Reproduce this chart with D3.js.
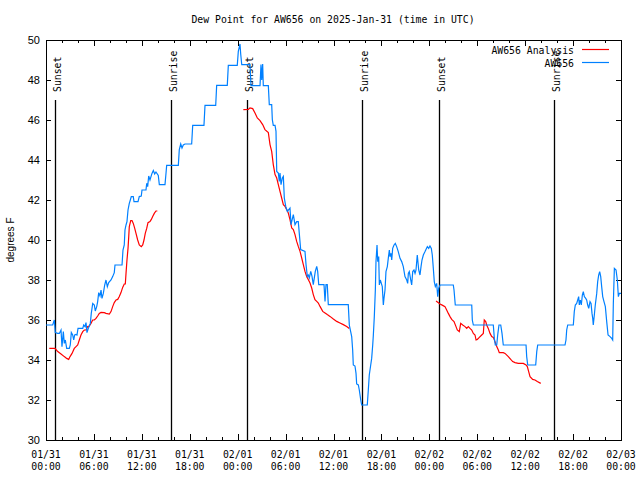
<!DOCTYPE html>
<html>
<head>
<meta charset="utf-8">
<script src="https://cdn.jsdelivr.net/npm/d3@7"></script>
<style>
  html, body { margin: 0; padding: 0; background: #fff; }
  svg { display: block; }
</style>
</head>
<body>
<svg id="chart" width="640" height="480"></svg>
<script>
// ---------------- DATA ----------------
const titleText = "Dew Point for AW656 on 2025-Jan-31 (time in UTC)";
const yTitle = "degrees F";
const seriesNames = ["AW656 Analysis", "AW656"];
const yTicks = [30, 32, 34, 36, 38, 40, 42, 44, 46, 48, 50];
const xTickHours = [0, 6, 12, 18, 24, 30, 36, 42, 48, 54, 60, 66, 72];
const xTickLabels = [
  ["01/31", "00:00"], ["01/31", "06:00"], ["01/31", "12:00"], ["01/31", "18:00"],
  ["02/01", "00:00"], ["02/01", "06:00"], ["02/01", "12:00"], ["02/01", "18:00"],
  ["02/02", "00:00"], ["02/02", "06:00"], ["02/02", "12:00"], ["02/02", "18:00"],
  ["02/03", "00:00"]
];
const eventHours = [1.13, 15.65, 25.2, 39.6, 49.25, 63.65];
const eventLabels = ["Sunset", "Sunrise", "Sunset", "Sunrise", "Sunset", "Sunrise"];

// observed station series (hours after 2025-01-31 00:00 UTC, degrees F)
const obsHours = [0.0,0.84,1.04,1.16,1.47,1.67,1.88,2.00,2.17,2.29,2.42,2.59,2.92,3.04,3.17,3.34,3.47,3.59,3.76,3.88,4.01,4.60,4.72,4.88,5.01,5.13,5.30,5.55,5.67,5.85,6.05,6.17,6.35,6.47,6.60,6.76,6.89,7.01,7.18,7.35,7.51,7.68,7.85,8.14,8.35,8.55,8.64,9.52,9.64,9.80,9.89,10.02,10.14,10.27,10.43,10.56,10.68,10.93,11.02,11.52,11.68,11.93,12.02,12.52,12.61,12.73,12.86,13.02,13.27,13.44,13.61,13.77,14.06,14.19,14.90,15.03,15.11,16.57,16.69,16.87,17.03,17.19,17.41,18.24,18.37,19.78,19.91,21.25,21.37,22.70,22.83,23.95,24.08,24.29,24.38,24.51,25.54,25.67,26.80,26.92,27.01,27.13,27.21,27.84,27.96,28.26,28.34,28.46,28.68,28.80,28.89,29.09,29.21,29.30,29.43,29.59,29.72,29.84,30.02,30.22,30.55,30.68,30.97,31.18,31.39,31.59,31.89,32.43,32.56,32.72,32.84,32.97,33.15,33.31,33.47,33.72,33.90,34.02,34.15,34.81,34.94,35.06,35.22,35.35,37.85,37.98,38.28,38.40,38.48,38.69,38.82,38.90,39.11,39.23,39.41,39.53,40.23,40.36,40.48,40.66,40.78,40.91,40.99,41.11,41.24,41.32,41.45,41.54,41.66,41.74,41.86,41.99,42.11,42.24,42.32,42.45,42.57,42.74,42.86,42.99,43.08,43.20,43.29,43.41,43.58,43.74,43.91,44.11,44.33,44.54,44.74,44.95,45.17,45.29,45.37,45.49,45.67,45.79,45.92,46.08,46.21,46.33,46.49,46.67,46.83,46.96,47.08,47.25,47.46,47.58,47.75,47.92,48.08,48.25,48.37,48.50,48.62,48.75,48.92,49.05,49.17,49.34,51.00,51.09,51.25,53.31,53.38,53.51,56.01,56.14,56.26,56.44,56.56,56.72,56.94,57.10,57.26,60.11,60.19,60.32,61.32,61.45,61.57,64.99,65.11,65.20,65.33,66.03,66.15,66.28,66.45,66.58,66.70,66.78,66.91,67.03,67.16,67.28,67.41,67.58,67.70,67.83,67.96,68.12,68.25,68.37,68.46,68.53,68.66,68.78,68.96,69.08,69.21,69.33,69.46,69.58,69.71,69.87,70.04,70.21,70.38,70.63,70.84,70.96,71.04,71.17,71.38,71.54,71.67,71.79,72.0];
const obsValues = [35.75,35.75,36.0,35.37,35.33,35.33,35.5,34.67,35.42,34.83,35.0,34.58,34.58,34.75,35.37,35.25,35.0,35.25,35.28,35.25,35.58,35.58,35.75,35.67,35.87,35.37,35.58,35.83,36.33,36.83,36.75,36.45,36.67,36.92,37.37,37.2,37.5,37.08,37.33,37.75,38.0,37.67,37.87,38.0,38.17,38.37,38.75,38.75,39.5,39.75,40.5,40.75,40.92,41.5,41.83,42.0,42.17,42.17,41.92,41.92,42.17,42.2,42.5,42.5,42.83,42.67,43.2,43.0,43.33,43.47,43.3,43.4,43.23,42.77,42.77,43.35,43.73,43.73,44.52,44.8,44.6,44.75,44.8,44.8,45.73,45.73,46.73,46.73,47.73,47.73,48.73,48.73,49.43,49.8,49.3,48.77,48.77,47.72,47.72,48.77,48.0,48.8,47.72,47.72,46.77,46.77,46.02,45.73,45.73,45.43,43.43,43.35,42.93,43.35,42.77,43.1,43.18,42.1,41.68,41.43,41.6,40.77,41.27,40.77,40.92,40.92,39.52,39.43,38.77,38.18,38.25,38.1,38.43,38.18,37.77,38.43,38.68,38.43,37.77,37.77,36.93,37.77,37.77,36.77,36.77,35.75,35.17,34.5,33.75,33.7,33.33,32.8,32.75,32.5,32.0,31.75,31.75,32.5,33.25,33.75,34.08,34.75,35.25,36.17,37.5,38.92,39.75,38.92,39.17,37.75,38.0,37.83,37.67,36.75,37.08,37.5,38.42,38.67,39.08,39.5,39.17,39.33,39.0,39.58,39.75,39.83,39.67,39.42,39.08,38.92,38.67,38.17,38.0,37.83,38.33,38.42,38.0,37.75,38.42,38.5,38.33,38.5,39.25,38.5,38.25,38.67,39.0,39.25,39.42,39.53,39.67,39.58,39.7,39.58,39.25,38.58,37.92,37.67,37.83,37.17,37.58,37.75,37.75,37.5,36.75,36.75,36.0,35.75,35.75,35.08,34.75,34.75,35.25,35.75,35.75,35.33,34.75,34.75,34.17,33.75,33.75,34.42,34.75,34.75,35.0,35.5,35.75,35.75,36.42,36.75,36.83,37.0,37.17,36.75,37.0,36.75,37.25,37.42,37.17,37.08,37.0,36.75,36.58,36.92,36.83,36.33,36.08,35.75,36.25,36.75,37.33,37.92,38.25,38.42,38.17,37.67,37.17,36.92,36.67,35.92,35.25,35.17,35.08,35.0,36.83,38.58,38.5,38.0,37.17,37.33,37.33];

// analysis series (null = gap between analysis runs)
const anaHours = [0.41,1.13,1.47,1.88,2.29,2.59,2.84,3.01,3.26,3.54,3.76,3.97,4.17,4.38,4.60,4.80,5.01,5.22,5.42,5.63,5.85,6.05,6.26,6.47,6.67,6.89,7.30,7.51,7.93,8.14,8.35,8.55,8.77,8.98,9.18,9.39,9.60,9.80,9.93,10.02,10.14,10.27,10.36,10.43,10.61,10.77,10.93,11.11,11.27,11.48,11.68,11.93,12.11,12.27,12.43,12.61,12.77,13.02,13.19,13.36,13.56,13.77,13.94,
  19.0,
  24.71,25.33,25.54,25.88,26.17,26.46,26.80,27.13,27.42,27.84,28.05,28.26,28.46,28.68,28.89,29.09,29.30,29.51,29.72,29.93,30.14,30.34,30.55,30.77,30.97,31.18,31.39,31.59,31.81,32.02,32.22,32.43,32.64,32.84,33.06,33.27,33.47,33.68,33.90,34.10,34.31,34.65,34.94,35.22,35.56,35.98,36.40,36.81,37.23,37.65,37.98,
  43.0,
  48.84,49.34,49.67,49.96,50.17,50.38,50.59,50.80,51.09,51.34,51.50,51.75,51.93,52.18,52.47,52.68,52.88,53.09,53.31,53.51,53.72,53.85,54.01,54.26,54.56,54.76,54.88,55.06,55.18,55.38,55.60,55.81,56.01,56.22,56.44,56.64,56.76,57.26,57.48,57.89,58.19,58.44,58.73,59.14,59.77,60.11,60.27,60.44,60.61,60.94,61.23,61.52,61.95];
const anaValues = [34.58,34.58,34.42,34.3,34.17,34.08,34.03,34.17,34.33,34.58,34.67,34.75,35.0,35.25,35.42,35.5,35.5,35.67,35.7,35.83,36.0,36.0,36.08,36.2,36.33,36.38,36.37,36.33,36.3,36.42,36.67,36.87,37.0,37.03,37.17,37.37,37.63,37.8,37.8,38.33,39.0,39.58,40.17,40.67,40.97,40.97,40.83,40.58,40.33,40.0,39.75,39.67,39.75,40.0,40.33,40.58,40.87,40.92,41.03,41.17,41.33,41.45,41.45,
  null,
  46.52,46.53,46.6,46.57,46.35,46.1,45.97,45.77,45.52,45.37,44.77,44.43,43.77,43.27,43.1,42.77,42.43,42.1,41.77,41.68,41.52,41.35,41.02,40.6,40.52,40.27,39.93,39.68,39.43,39.1,38.77,38.43,38.18,38.02,37.85,37.6,37.27,37.02,36.93,36.85,36.68,36.43,36.35,36.27,36.18,36.05,35.93,35.85,35.77,35.68,35.58,
  null,
  36.95,36.8,36.73,36.67,36.5,36.33,36.17,36.03,35.92,35.67,35.5,35.42,35.83,35.75,35.67,35.58,35.67,35.58,35.5,35.33,35.25,35.0,35.03,35.13,35.25,35.33,36.0,35.92,35.75,35.58,35.33,35.17,35.13,34.92,34.67,34.5,34.37,34.37,34.33,34.17,34.03,33.92,33.87,33.83,33.83,33.75,33.67,33.42,33.17,33.03,33.0,32.92,32.83];

// ---------------- CHART ----------------
const W = 640, H = 480;
const M = { left: 46, right: 621, top: 40, bottom: 440 };
const t0 = Date.UTC(2025, 0, 31, 0, 0, 0);
const toDate = h => new Date(t0 + h * 3600e3);
const monoFont = "'DejaVu Sans Mono', 'Liberation Mono', monospace";
const sansFont = "'Liberation Sans', Arial, sans-serif";
const colAna = "#ff0000";
const colObs = "#0080ff";

const svg = d3.select("#chart");
svg.append("rect").attr("width", W).attr("height", H).attr("fill", "#fff");

const x = d3.scaleUtc().domain([toDate(0), toDate(72)]).range([M.left, M.right]);
const y = d3.scaleLinear().domain([30, 50]).range([M.bottom, M.top]);

const majorDates = xTickHours.map(toDate);
const minorDates = d3.range(0, 73, 2).filter(h => h % 6 !== 0).map(toDate);

function styleAxis(g) {
  g.select(".domain").remove();
  g.selectAll(".tick line").attr("stroke", "#000").attr("stroke-width", 1).attr("shape-rendering", "crispEdges");
}

// bottom axis major + minor
svg.append("g").attr("transform", `translate(0,${M.bottom})`)
  .call(d3.axisBottom(x).tickValues(majorDates).tickSize(-6).tickFormat(""))
  .call(styleAxis);
svg.append("g").attr("transform", `translate(0,${M.bottom})`)
  .call(d3.axisBottom(x).tickValues(minorDates).tickSize(-3).tickFormat(""))
  .call(styleAxis);
// top axis mirror
svg.append("g").attr("transform", `translate(0,${M.top})`)
  .call(d3.axisTop(x).tickValues(majorDates).tickSize(-6).tickFormat(""))
  .call(styleAxis);
svg.append("g").attr("transform", `translate(0,${M.top})`)
  .call(d3.axisTop(x).tickValues(minorDates).tickSize(-3).tickFormat(""))
  .call(styleAxis);

// x labels (two lines)
const xl = svg.append("g").attr("font-family", monoFont).attr("font-size", 9.8).attr("fill", "#000");
majorDates.forEach((d, i) => {
  const t = xl.append("text").attr("text-anchor", "middle");
  t.append("tspan").attr("x", x(d)).attr("y", 458).text(xTickLabels[i][0]);
  t.append("tspan").attr("x", x(d)).attr("y", 470).text(xTickLabels[i][1]);
});

// left axis
const gl = svg.append("g").attr("transform", `translate(${M.left},0)`)
  .call(d3.axisLeft(y).tickValues(yTicks).tickSize(-5).tickPadding(6).tickFormat(d3.format("d")))
  .call(styleAxis);
gl.selectAll("text").attr("font-family", sansFont).attr("font-size", 11).attr("fill", "#000");
// right axis mirror
svg.append("g").attr("transform", `translate(${M.right},0)`)
  .call(d3.axisRight(y).tickValues(yTicks).tickSize(-5).tickFormat(""))
  .call(styleAxis);

// frame
svg.append("rect").attr("x", M.left + 0.5).attr("y", M.top + 0.5)
  .attr("width", M.right - M.left).attr("height", M.bottom - M.top)
  .attr("fill", "none").attr("stroke", "#000").attr("stroke-width", 1);

// event lines
const ev = svg.append("g");
eventHours.forEach((h, i) => {
  const xx = Math.round(x(toDate(h))) + 0.5;
  ev.append("line").attr("x1", xx).attr("x2", xx).attr("y1", y(47)).attr("y2", y(30))
    .attr("stroke", "#000").attr("stroke-width", 1.3);
  ev.append("text").attr("transform", `translate(${xx + 5.5},92) rotate(-90)`)
    .attr("text-anchor", "start").attr("font-family", monoFont).attr("font-size", 9.8)
    .attr("fill", "#000").text(eventLabels[i]);
});

// series
const line = d3.line().defined(d => d[1] !== null)
  .x(d => x(toDate(d[0]))).y(d => y(d[1]));
const obsData = obsHours.map((h, i) => [h, obsValues[i]]);
const anaData = anaHours.map((h, i) => [h, anaValues[i]]);

svg.append("path").datum(anaData).attr("d", line)
  .attr("fill", "none").attr("stroke", colAna).attr("stroke-width", 1.2);
svg.append("path").datum(obsData).attr("d", line)
  .attr("fill", "none").attr("stroke", colObs).attr("stroke-width", 1.2);

// legend
const lg = svg.append("g").attr("font-family", monoFont).attr("font-size", 9.8).attr("fill", "#000");
lg.append("text").attr("x", 574).attr("y", 54).attr("text-anchor", "end").text(seriesNames[0]);
lg.append("line").attr("x1", 582).attr("x2", 609).attr("y1", 49.5).attr("y2", 49.5)
  .attr("stroke", colAna).attr("stroke-width", 1.2);
lg.append("text").attr("x", 574).attr("y", 67).attr("text-anchor", "end").text(seriesNames[1]);
lg.append("line").attr("x1", 582).attr("x2", 609).attr("y1", 62.5).attr("y2", 62.5)
  .attr("stroke", colObs).attr("stroke-width", 1.2);

// title & y title
svg.append("text").attr("x", 333).attr("y", 23).attr("text-anchor", "middle")
  .attr("font-family", monoFont).attr("font-size", 9.8).attr("fill", "#000").text(titleText);
svg.append("text").attr("transform", `translate(14,240) rotate(-90)`).attr("text-anchor", "middle")
  .attr("font-family", sansFont).attr("font-size", 10).attr("fill", "#000").text(yTitle);
</script>
</body>
</html>
